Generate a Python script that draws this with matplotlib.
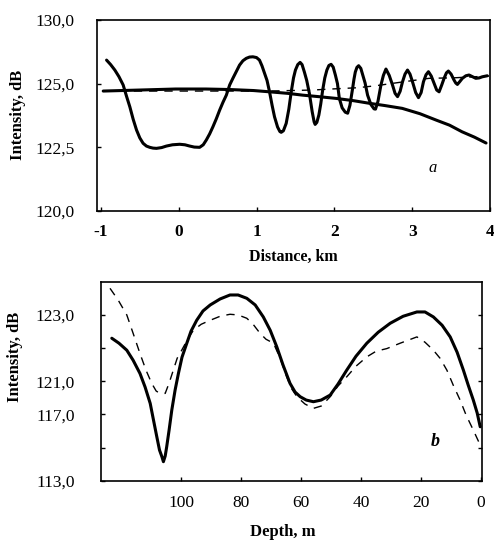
import numpy as np
import matplotlib
matplotlib.use("Agg")
import matplotlib.pyplot as plt

plt.rcParams['font.family'] = ['Liberation Serif', 'DejaVu Serif']

# ---- panel a: intensity along distance ----
dist_osc = [-0.927, -0.875, -0.821, -0.768, -0.714, -0.67, -0.628, -0.585, -0.542, -0.5,
            -0.458, -0.415, -0.372, -0.33, -0.286, -0.22, -0.158, -0.08, 0.013, 0.08,
            0.141, 0.2, 0.269, 0.315, 0.355, 0.398, 0.440, 0.483, 0.526, 0.569,
            0.612, 0.655, 0.696, 0.74, 0.782, 0.825, 0.868, 0.91, 0.953, 1.0,
            1.038, 1.07, 1.103, 1.135, 1.167, 1.2, 1.231, 1.27, 1.30, 1.317,
            1.345, 1.381, 1.415, 1.446, 1.475, 1.500, 1.53, 1.560, 1.585, 1.615,
            1.645, 1.679, 1.715, 1.74, 1.753, 1.775, 1.801, 1.825, 1.850, 1.877,
            1.904, 1.93, 1.958, 1.985, 2.013, 2.04, 2.064, 2.10, 2.14, 2.171,
            2.2, 2.235, 2.252, 2.269, 2.29, 2.312, 2.34, 2.365, 2.395, 2.427,
            2.47, 2.51, 2.529, 2.56, 2.599, 2.63, 2.663, 2.705, 2.747, 2.78,
            2.812, 2.845, 2.876, 2.908, 2.940, 2.972, 3.004, 3.045, 3.081, 3.115,
            3.145, 3.178, 3.209, 3.245, 3.282, 3.315, 3.346, 3.38, 3.410, 3.44,
            3.465, 3.50, 3.538, 3.56, 3.581, 3.61, 3.645, 3.69, 3.731, 3.775,
            3.817, 3.86, 3.901, 3.965]
int_osc = [126.85, 126.5, 126.07, 125.55, 124.95, 124.5, 124.09, 123.6, 123.18, 122.87,
           122.66, 122.55, 122.50, 122.47, 122.46, 122.49, 122.55, 122.6, 122.62, 122.6,
           122.55, 122.51, 122.50, 122.6, 122.79, 123.03, 123.31, 123.62, 123.96, 124.27,
           124.55, 124.95, 125.42, 125.95, 126.46, 126.8, 126.99, 127.09, 127.11, 127.05,
           126.85, 126.4, 125.81, 125.25, 124.68, 124.15, 123.70, 123.3, 123.12, 123.09,
           123.15, 123.44, 124.0, 124.68, 125.45, 126.07, 126.5, 126.67, 126.5, 125.91,
           125.25, 124.62, 123.9, 123.5, 123.40, 123.48, 123.77, 124.2, 124.75, 125.45,
           126.07, 126.43, 126.52, 126.3, 125.68, 125.0, 124.42, 124.05, 123.88, 123.84,
           124.15, 124.82, 125.35, 125.91, 126.28, 126.41, 126.2, 125.68, 125.05, 124.55,
           124.18, 124.01, 124.00, 124.3, 124.95, 125.65, 126.15, 125.65, 124.95, 124.62,
           124.49, 124.7, 125.15, 125.75, 126.07, 125.75, 125.15, 124.65, 124.45, 124.65,
           125.15, 125.7, 125.94, 125.6, 125.02, 124.75, 124.68, 124.95, 125.42, 125.85,
           125.99, 125.75, 125.28, 125.05, 124.97, 125.15, 125.42, 125.62, 125.68, 125.55,
           125.42, 125.45, 125.54, 125.62]

dist_smooth = [-0.97, -0.5, -0.04, 0.35, 0.654, 0.962, 1.167, 1.4, 1.59, 1.8,
               2.026, 2.25, 2.449, 2.65, 2.872, 3.1, 3.308, 3.48, 3.641, 3.8, 3.949]
int_smooth = [124.71, 124.75, 124.79, 124.79, 124.77, 124.73, 124.68, 124.62, 124.55, 124.49,
              124.42, 124.33, 124.23, 124.14, 124.03, 123.82, 123.57, 123.37, 123.11, 122.9,
              122.67]

dist_mean = [-0.97, 1.167, 1.718, 1.96, 2.295, 2.538, 2.87, 3.218, 3.538, 3.987]
int_mean = [124.71, 124.71, 124.75, 124.79, 124.84, 124.92, 125.13, 125.42, 125.46, 125.6]

dist_ticks = [-1, 0, 1, 2, 3, 4]
dist_labels = ['-1', '0', '1', '2', '3', '4']
int_a_ticks = [120.0, 122.5, 125.0, 130.0]
int_a_labels = ['120,0', '122,5', '125,0', '130,0']

# ---- panel b: intensity along depth ----
depth_solid = [123.1, 120.7, 118.1, 116.0, 113.7, 112.0, 110.3, 109.2, 108.1, 107.2,
               106.4, 105.9, 105.3, 104.8, 104.0, 103.1, 102.0, 100.9, 99.7, 98.1,
               96.7, 94.8, 92.7, 90.3, 87.0, 83.7, 81.0, 78.1, 75.3, 72.6,
               70.3, 68.1, 66.0, 63.7, 62.0, 60.3, 58.3, 55.9, 53.3, 50.3,
               47.7, 44.8, 41.7, 38.1, 34.3, 30.3, 26.0, 21.4, 18.7, 15.9,
               13.0, 10.3, 8.0, 5.9, 4.3, 2.6, 1.3, 0.3]
int_solid = [122.29, 122.14, 121.93, 121.63, 121.23, 120.29, 118.33, 116.66, 115.66, 114.86,
             114.46, 114.16, 114.50, 115.06, 116.06, 117.53, 119.93, 121.23, 121.72, 122.14,
             122.50, 122.83, 123.11, 123.29, 123.47, 123.59, 123.59, 123.49, 123.29, 122.93,
             122.53, 122.03, 121.48, 120.74, 119.69, 119.13, 118.73, 118.53, 118.73, 119.33,
             120.65, 121.33, 121.75, 122.14, 122.47, 122.74, 122.95, 123.08, 123.08, 122.93,
             122.68, 122.33, 121.87, 121.33, 120.53, 118.73, 117.17, 116.26]

depth_dash = [123.7, 121.0, 118.1, 116.0, 113.7, 111.7, 109.8, 108.3, 107.0, 105.3,
              104.0, 102.6, 101.3, 99.8, 98.0, 95.9, 93.3, 90.3, 87.0, 83.7,
              81.0, 78.1, 76.0, 73.7, 71.7, 69.2, 67.0, 64.8, 63.3, 61.4,
              58.7, 55.9, 53.3, 50.3, 47.7, 44.8, 41.7, 38.1, 35.0, 31.4,
              27.0, 21.4, 18.7, 15.9, 13.7, 11.4, 9.3, 7.0, 5.0, 2.6, 0.3]
int_dash = [123.79, 123.44, 122.99, 122.44, 121.83, 121.33, 120.74, 119.81, 119.53, 119.53,
            120.77, 121.33, 121.69, 121.93, 122.23, 122.53, 122.71, 122.83, 122.95, 123.01,
            122.99, 122.89, 122.71, 122.44, 122.26, 122.14, 121.69, 121.13, 120.17, 119.13,
            118.25, 117.73, 118.01, 119.13, 120.41, 121.13, 121.45, 121.73, 121.90, 121.98,
            122.14, 122.33, 122.17, 121.93, 121.69, 121.33, 120.53, 118.73, 116.96, 116.06,
            115.16]

depth_ticks = [100, 80, 60, 40, 20, 0]
depth_labels = ['100', '80', '60', '40', '20', '0']
int_b_ticks = [113.0, 117.0, 121.0, 123.0]
int_b_labels = ['113,0', '117,0', '121,0', '123,0']
int_b_minor = [115.0, 122.0]


def piecewise_scale(levels, slots):
    def fwd(v):
        return np.interp(v, levels, slots)

    def inv(s):
        return np.interp(s, slots, levels)
    return fwd, inv


fig = plt.figure(figsize=(4.94, 5.43), dpi=100)

# panel a
ax1 = fig.add_axes([97 / 494, 1 - 211 / 543, 393 / 494, 191 / 543])
ax1.set_yscale('function', functions=piecewise_scale(
    [119.0, 120.0, 122.5, 125.0, 130.0, 135.0], [-0.4, 0, 1, 2, 3, 4]))
ax1.plot(dist_smooth, int_smooth, color='black', lw=2.2, solid_capstyle='round')
ax1.plot(dist_mean, int_mean, color='black', lw=1.0, dashes=(6, 5))
ax1.plot(dist_osc, int_osc, color='black', lw=2.2, solid_joinstyle='round',
         solid_capstyle='round')
ax1.set_xlim(-1.05, 4.0)
ax1.set_ylim(120.0, 130.0)
ax1.set_xticks(dist_ticks)
ax1.set_xticklabels(dist_labels, fontsize=12.5, fontweight='bold')
ax1.set_yticks(int_a_ticks)
ax1.set_yticklabels(int_a_labels, fontsize=12.5)
ax1.yaxis.set_minor_locator(plt.NullLocator())
ax1.tick_params(axis='x', direction='in', length=3, width=1, pad=9)
ax1.tick_params(axis='y', direction='in', length=3, width=1, pad=16)
ax1.text(0.855, 0.225, 'a', transform=ax1.transAxes, fontsize=12,
         fontstyle='italic', ha='center', va='center')
fig.text(293 / 494, 1 - 257 / 543, 'Distance, km', fontsize=11.5, fontweight='bold',
         ha='center', va='center')
fig.text(18 / 494, 1 - 115 / 543, 'Intensity, dB', fontsize=12, fontweight='bold',
         rotation=90, ha='center', va='center')

# panel b
ax2 = fig.add_axes([101 / 494, 1 - 481 / 543, 381 / 494, 199 / 543])
ax2.set_yscale('function', functions=piecewise_scale(
    [112.0, 113.0, 117.0, 121.0, 123.0, 125.0], [-0.5, 0, 2, 3, 5, 7]))
ax2.plot(depth_dash, int_dash, color='black', lw=1.0, dashes=(6, 5))
ax2.plot(depth_solid, int_solid, color='black', lw=2.2, solid_joinstyle='round',
         solid_capstyle='round')
ax2.set_xlim(126.7, -0.3)
ax2.set_ylim(113.0, 123.98)
ax2.set_xticks(depth_ticks)
ax2.set_xticklabels(depth_labels, fontsize=12.5)
ax2.set_yticks(int_b_ticks)
ax2.set_yticklabels(int_b_labels, fontsize=12.5)
ax2.set_yticks(int_b_minor, minor=True)
ax2.tick_params(axis='x', direction='in', length=3, width=1, pad=10)
ax2.tick_params(axis='y', which='both', direction='in', length=3, width=1, pad=19,
                right=True)
ax2.text(0.877, 0.196, 'b', transform=ax2.transAxes, fontsize=13,
         fontstyle='italic', fontweight='bold', ha='center', va='center')
fig.text(283 / 494, 1 - 532 / 543, 'Depth, m', fontsize=12, fontweight='bold',
         ha='center', va='center')
fig.text(15 / 494, 1 - 357 / 543, 'Intensity, dB', fontsize=12, fontweight='bold',
         rotation=90, ha='center', va='center')

for ax in (ax1, ax2):
    for sp in ax.spines.values():
        sp.set_linewidth(1.2)

fig.savefig('out.png', dpi=100)
